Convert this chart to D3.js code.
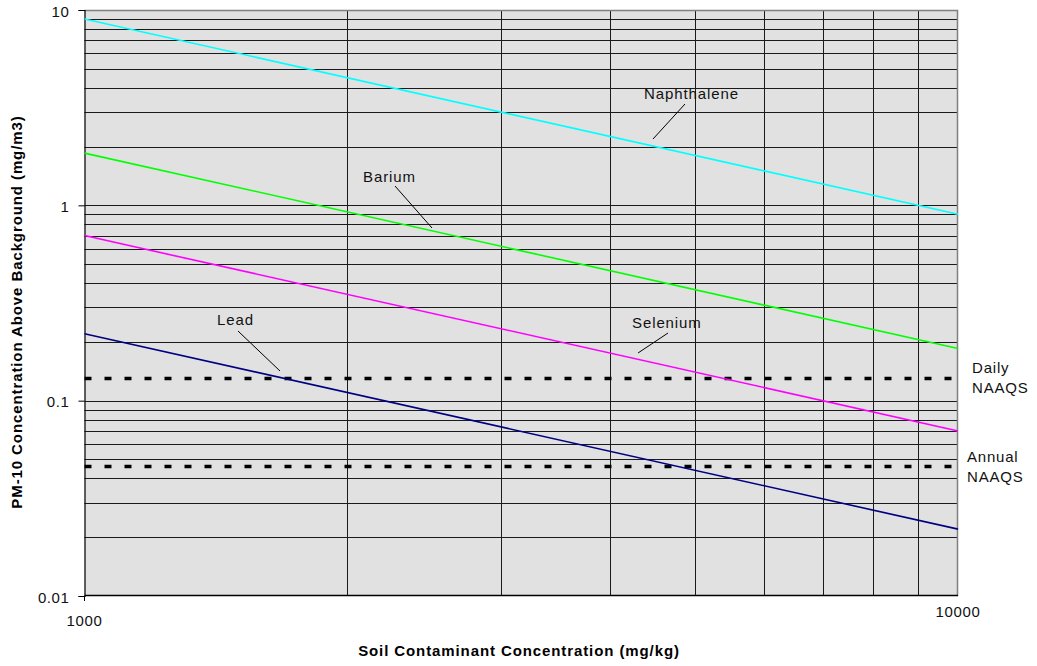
<!DOCTYPE html>
<html>
<head>
<meta charset="utf-8">
<script src="https://cdn.jsdelivr.net/npm/d3@7"></script>
<style>
  html, body { margin: 0; padding: 0; background: #fff; }
  svg { display: block; font-family: "Liberation Sans", Arial, sans-serif; }
</style>
</head>
<body>
<svg id="chart" width="1037" height="666"></svg>
<script>
// Soil concentration (mg/kg) end points of each line
const soilRange = [1000, 10000];

// PM-10 concentration above background (mg/m3) at 1000 and 10000 mg/kg
const naphthalene = [9.0, 0.9];
const barium = [1.85, 0.185];
const selenium = [0.7, 0.07];
const lead = [0.22, 0.022];

// Reference standards (mg/m3)
const dailyNaaqs = 0.13;
const annualNaaqs = 0.046;

const yTickValues = [10, 1, 0.1, 0.01];
const yTickLabels = ["10", "1", "0.1", "0.01"];
const xTickLabels = ["1000", "10000"];

const svg = d3.select("#chart");
const plot = { left: 84.5, right: 958, top: 10, bottom: 596 };

const x = d3.scaleLog().domain(soilRange).range([plot.left, plot.right]);
const y = d3.scaleLog().domain([0.01, 10]).range([plot.bottom, plot.top]);

// plot background
svg.append("rect")
  .attr("x", plot.left).attr("y", plot.top)
  .attr("width", plot.right - plot.left).attr("height", plot.bottom - plot.top)
  .attr("fill", "#e1e1e1");

// horizontal gridlines: every minor step of each decade
const yGrid = [];
[0.01, 0.1, 1].forEach(d => { for (let k = 1; k <= 9; k++) yGrid.push(d * k); });
svg.append("g").selectAll("line").data(yGrid.filter(v => v > 0.01)).join("line")
  .attr("x1", plot.left).attr("x2", plot.right)
  .attr("y1", d => Math.round(y(d)) + 0.5).attr("y2", d => Math.round(y(d)) + 0.5)
  .attr("stroke", "#1a1a1a").attr("stroke-width", 1);

// vertical gridlines
const xGrid = d3.range(2, 10).map(k => k * 1000);
svg.append("g").selectAll("line").data(xGrid).join("line")
  .attr("y1", plot.top).attr("y2", plot.bottom)
  .attr("x1", d => Math.round(x(d)) + 0.5).attr("x2", d => Math.round(x(d)) + 0.5)
  .attr("stroke", "#1a1a1a").attr("stroke-width", 1);

// plot border (top/right)
svg.append("path")
  .attr("d", `M${plot.left},${plot.top + 0.5}H${plot.right - 0.5}V${plot.bottom}`)
  .attr("fill", "none").attr("stroke", "#808080").attr("stroke-width", 1.5);

// y axis
const yAxis = d3.axisLeft(y).tickValues(yTickValues)
  .tickFormat((d, i) => yTickLabels[i]).tickSize(6).tickPadding(9);
const gy = svg.append("g").attr("transform", `translate(${plot.left},0)`).call(yAxis);
gy.select(".domain").attr("stroke", "#000").attr("stroke-width", 1.2);
gy.selectAll(".tick line").attr("stroke", "#000");
gy.selectAll(".tick text").attr("font-size", 15).attr("fill", "#111")
  .attr("font-family", "'Liberation Sans', Arial, sans-serif")
  .style("letter-spacing", "0.6px").attr("dy", "0.4em");

// x axis line
svg.append("line")
  .attr("x1", plot.left).attr("x2", plot.right)
  .attr("y1", plot.bottom - 0.5).attr("y2", plot.bottom - 0.5)
  .attr("stroke", "#000").attr("stroke-width", 1.5);
svg.append("line")
  .attr("x1", plot.left).attr("x2", plot.left)
  .attr("y1", plot.bottom).attr("y2", plot.bottom + 5)
  .attr("stroke", "#000");

// x tick labels
svg.append("g").selectAll("text").data(soilRange).join("text")
  .attr("x", d => x(d))
  .attr("y", (d, i) => i === 0 ? 626 : 617)
  .attr("text-anchor", "middle")
  .attr("font-size", 15).attr("fill", "#111")
  .style("letter-spacing", "0.7px")
  .text((d, i) => xTickLabels[i]);

// NAAQS dashed lines
const naaqs = [
  { value: dailyNaaqs, lines: ["Daily", "NAAQS"], tx: 972, ty: 373 },
  { value: annualNaaqs, lines: ["Annual", "NAAQS"], tx: 967, ty: 462 }
];
svg.append("g").selectAll("line").data(naaqs).join("line")
  .attr("x1", plot.left).attr("x2", 963)
  .attr("y1", d => y(d.value)).attr("y2", d => y(d.value))
  .attr("stroke", "#000").attr("stroke-width", 3.5)
  .attr("stroke-dasharray", "7 13");

// contaminant lines
const series = [
  { name: "Naphthalene", values: naphthalene, color: "#00ffff" },
  { name: "Barium", values: barium, color: "#00ff00" },
  { name: "Selenium", values: selenium, color: "#ff00ff" },
  { name: "Lead", values: lead, color: "#000080" }
];
const line = d3.line().x(d => x(d[0])).y(d => y(d[1]));
svg.append("g").selectAll("path").data(series).join("path")
  .attr("d", d => line(soilRange.map((s, i) => [s, d.values[i]])))
  .attr("fill", "none").attr("stroke", d => d.color).attr("stroke-width", 1.6);

// NAAQS labels
naaqs.forEach(d => {
  const t = svg.append("text")
    .attr("x", d.tx).attr("y", d.ty)
    .attr("font-size", 15).attr("fill", "#111").style("letter-spacing", "0.8px");
  d.lines.forEach((s, i) => t.append("tspan")
    .attr("x", d.tx).attr("dy", i === 0 ? 0 : 19.5).text(s));
});

// series labels with leader lines
const callouts = [
  { text: "Naphthalene", tx: 644, ty: 99, from: [685, 104], to: [653, 139] },
  { text: "Barium", tx: 363, ty: 182, from: [395, 186], to: [432, 228] },
  { text: "Selenium", tx: 632, ty: 328, from: [668, 333], to: [638, 353] },
  { text: "Lead", tx: 217, ty: 325, from: [238, 331], to: [280, 371] }
];
const cg = svg.append("g");
callouts.forEach(c => {
  cg.append("text").attr("x", c.tx).attr("y", c.ty)
    .attr("font-size", 15).attr("fill", "#111").style("letter-spacing", "0.9px")
    .text(c.text);
  cg.append("line")
    .attr("x1", c.from[0]).attr("y1", c.from[1])
    .attr("x2", c.to[0]).attr("y2", c.to[1])
    .attr("stroke", "#000").attr("stroke-width", 1);
});

// axis titles
svg.append("text")
  .attr("x", 519).attr("y", 656)
  .attr("text-anchor", "middle")
  .attr("font-size", 15).attr("font-weight", "bold").attr("fill", "#000")
  .style("letter-spacing", "0.9px")
  .text("Soil Contaminant Concentration (mg/kg)");

svg.append("text")
  .attr("transform", "translate(22,312) rotate(-90)")
  .attr("text-anchor", "middle")
  .attr("font-size", 15).attr("font-weight", "bold").attr("fill", "#000")
  .style("letter-spacing", "0.9px")
  .text("PM-10 Concentration Above Background (mg/m3)");
</script>
</body>
</html>
